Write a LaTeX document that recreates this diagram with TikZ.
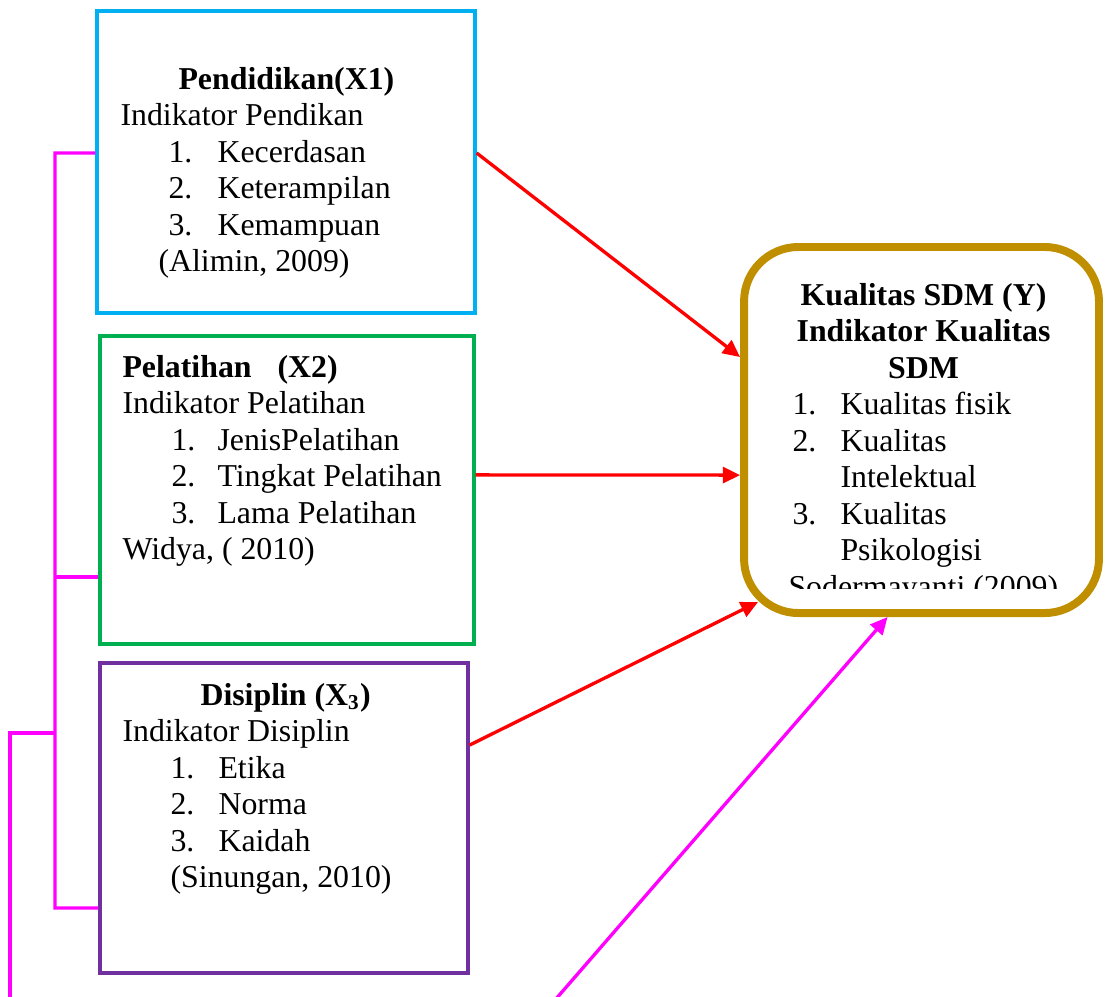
\documentclass[tikz,border=0pt]{standalone}
\usepackage{fontspec}
\setmainfont{Liberation Serif}
\usetikzlibrary{arrows.meta}
\definecolor{pcyan}{HTML}{00B0F0}
\definecolor{pgreen}{HTML}{00B050}
\definecolor{ppurple}{HTML}{7030A0}
\definecolor{pgold}{HTML}{BF8F00}
\definecolor{pmagenta}{HTML}{FF00FF}
\newlength\pxu \setlength\pxu{0.377pt}
\newcommand\boxtext[1]{\vtop{\baselineskip=36.5\pxu\lineskiplimit=-\maxdimen #1}}
\newcommand\tline[2]{\hbox{\kern#1\pxu #2}}
\newcommand\nitem[4]{\hbox{\kern#1\pxu\hbox to #2\pxu{#3\hfil}#4}}
\newcommand\ctline[1]{\hbox to 270\pxu{\hfil\textbf{#1}\hfil}}
\tikzset{
  varbox/.style={draw=#1, line width=1.25pt, inner sep=0pt},
  txt/.style={anchor=base west, inner sep=0pt, font=\fontsize{12}{14}\selectfont},
  effect/.style={draw=red, line width=1.25pt, -{Triangle[length=6.5pt,width=6pt]}},
  bracket/.style={draw=pmagenta, line width=1.25pt}
}
\begin{document}
\begin{tikzpicture}[x=0.377pt, y=-0.377pt]
\useasboundingbox (0,0) rectangle (1108,996);
\node[varbox=pcyan, minimum width=142.5pt, minimum height=113.9pt] (x1) at (286,162) {};
\node[varbox=pgreen, minimum width=141pt, minimum height=116.1pt] (x2) at (287,490) {};
\node[varbox=ppurple, minimum width=138.7pt, minimum height=116.9pt] (x3) at (284,818) {};
\node[draw=pgold, line width=3pt, rounded corners=20.5pt, inner sep=0pt,
      minimum width=133.8pt, minimum height=138pt] (y) at (921.5,430) {};

\node[txt] (x1text) at (120,89) {\boxtext{%
  \tline{58}{\textbf{Pendidikan(X1)}}
  \tline{0}{Indikator Pendikan}
  \nitem{48}{49}{1.}{Kecerdasan}
  \nitem{48}{49}{2.}{Keterampilan}
  \nitem{48}{49}{3.}{Kemampuan}
  \tline{38}{(Alimin, 2009)}}};
\node[txt] (x2text) at (122,377) {\boxtext{%
  \tline{0}{\textbf{Pelatihan\hspace{26\pxu}(X2)}}
  \tline{0}{Indikator Pelatihan}
  \nitem{49}{46}{1.}{JenisPelatihan}
  \nitem{49}{46}{2.}{Tingkat Pelatihan}
  \nitem{49}{46}{3.}{Lama Pelatihan}
  \tline{0}{Widya, ( 2010)}}};
\node[txt] (x3text) at (122,705) {\boxtext{%
  \tline{78}{\textbf{Disiplin (X\textsubscript{3})}}
  \tline{0}{Indikator Disiplin}
  \nitem{48}{48}{1.}{Etika}
  \nitem{48}{48}{2.}{Norma}
  \nitem{48}{48}{3.}{Kaidah}
  \tline{48}{(Sinungan, 2010)}}};
\begin{scope}
  \clip (748,252) rectangle (1094,588);
  \node[txt] (ytext) at (788,305) {\boxtext{%
    \ctline{Kualitas SDM (Y)}
    \ctline{Indikator Kualitas}
    \ctline{SDM}
    \nitem{4}{48}{1.}{Kualitas fisik}
    \nitem{4}{48}{2.}{Kualitas}
    \tline{52}{Intelektual}
    \nitem{4}{48}{3.}{Kualitas}
    \tline{52}{Psikologisi}
    \tline{0}{Sodermayanti (2009)}}};
\end{scope}

\draw[effect] ([yshift=3.4pt]x1.east) -- ([yshift=27.5pt]y.west);
\draw[effect] ([yshift=5.7pt]x2.east) -- ([yshift=-17pt]y.west);
\draw[effect] ([yshift=27.5pt]x3.east) -- ([xshift=6.8pt,yshift=5.7pt]y.south west);

\coordinate (busT) at (55,153);
\coordinate (busB) at (55,908);
\coordinate (x2stub) at ([yshift=-32.8pt]x2.west);
\coordinate (tailT) at (10,733);
\coordinate (tailB) at (10,1000);
\coordinate (loopB) at (555,1000);
\draw[bracket] ([yshift=3.4pt]x1.west) -- (busT) -- (busB) -- ([yshift=-33.9pt]x3.west);
\draw[bracket] (x2stub) -- (busT |- x2stub);
\draw[bracket] (busT |- tailT) -- (tailT) -- (tailB);
\draw[bracket, -{Triangle[length=6.5pt,width=6pt]}] (loopB) -- ([xshift=-12.8pt]y.south);
\end{tikzpicture}
\end{document}
